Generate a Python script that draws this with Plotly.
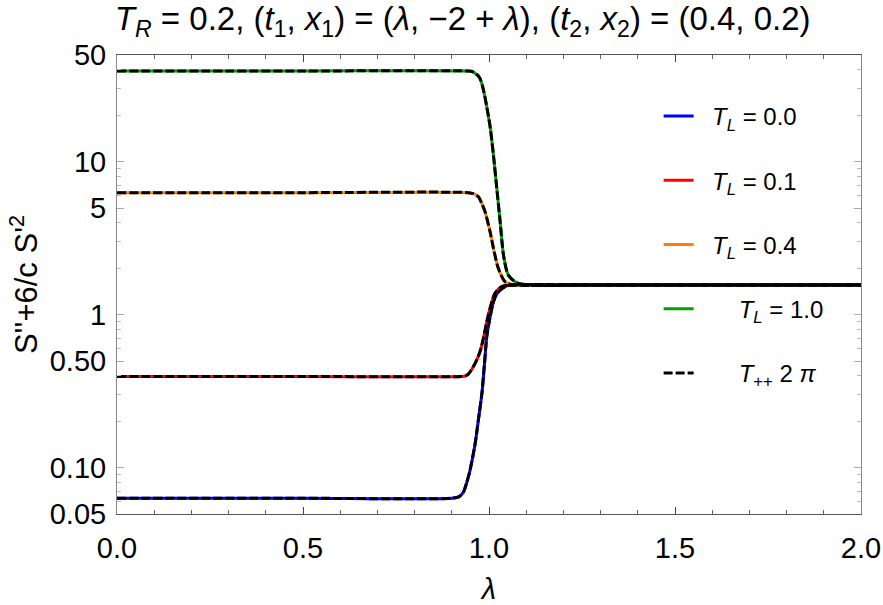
import plotly.graph_objects as go

# values (lambda, S''+6/c S'^2)
lam_t00 = [0.0, 0.5, 0.90, 0.92, 0.931, 0.940, 0.949, 0.963, 0.9715, 0.981, 0.988, 0.994, 1.003, 1.012, 1.020, 1.030, 1.052, 1.08, 1.3, 1.6, 2.0]
val_t00 = [0.0634, 0.0634, 0.0634, 0.065, 0.0693, 0.080, 0.0966, 0.1455, 0.2065, 0.308, 0.484, 0.722, 0.975, 1.22, 1.36, 1.455, 1.56, 1.57, 1.57, 1.57, 1.57]

lam_t01 = [0.0, 0.5, 0.925, 0.937, 0.945, 0.963, 0.976, 0.985, 0.994, 1.003, 1.016, 1.034, 1.057, 1.3, 1.6, 2.0]
val_t01 = [0.396, 0.396, 0.396, 0.400, 0.412, 0.484, 0.577, 0.705, 0.90, 1.11, 1.385, 1.53, 1.57, 1.57, 1.57, 1.57]

lam_t04 = [0.0, 0.5, 0.945, 0.958, 0.9715, 0.980, 0.9895, 1.003, 1.012, 1.025, 1.043, 1.061, 1.3, 1.6, 2.0]
val_t04 = [6.3, 6.3, 6.3, 6.2, 5.92, 5.4, 4.72, 3.49, 2.72, 2.02, 1.65, 1.58, 1.57, 1.57, 1.57]

lam_t10 = [0.0, 0.5, 0.945, 0.955, 0.962, 0.970, 0.976, 0.983, 0.990, 0.996, 1.003, 1.012, 1.021, 1.030, 1.039, 1.052, 1.079, 1.3, 1.6, 2.0]
val_t10 = [39.3, 39.3, 39.3, 39.0, 38.0, 36.8, 35.0, 31.0, 25.9, 21.5, 17.0, 11.06, 6.71, 4.06, 2.46, 1.82, 1.61, 1.57, 1.57, 1.57]

curves = [
    ("0.0", lam_t00, val_t00, "#0000FF"),
    ("0.1", lam_t01, val_t01, "#FF0000"),
    ("0.4", lam_t04, val_t04, "#FF8000"),
    ("1.0", lam_t10, val_t10, "#00A000"),
]

y_tickvals = [0.05, 0.1, 0.5, 1, 5, 10, 50]
y_ticktext = ["0.05", "0.10", "0.50", "1", "5", "10", "50"]
y_minor = [0.06, 0.07, 0.08, 0.09, 0.2, 0.3, 0.4, 0.6, 0.7, 0.8, 0.9,
           2, 3, 4, 6, 7, 8, 9, 20, 30, 40]

FONT = "Liberation Sans, Arial, sans-serif"
NB = "\u00a0"

fig = go.Figure()
for label, lam, val, color in curves:
    pad = NB * (2 if label != "1.0" else 6)
    fig.add_trace(go.Scatter(
        x=lam, y=val, mode="lines", name=f"{pad}<i>T</i><sub><i>L</i></sub> = {label}",
        line=dict(color=color, width=3, shape="spline", smoothing=0.7),
        legendgroup=label,
    ))
for i, (label, lam, val, color) in enumerate(curves):
    fig.add_trace(go.Scatter(
        x=lam, y=val, mode="lines", name=f"{NB * 6}<i>T</i><sub>++</sub> 2 <i>π</i>",
        line=dict(color="black", width=3, dash="9px,3px", shape="spline", smoothing=0.7),
        legendgroup="pp", showlegend=(i == 0),
    ))

fig.update_layout(
    width=883, height=605,
    paper_bgcolor="white", plot_bgcolor="white",
    margin=dict(l=117, r=22, t=55, b=91),
    font=dict(family=FONT, color="black", size=24),
    title=dict(
        text="<i>T</i><sub><i>R</i></sub> = 0.2, (<i>t</i><sub>1</sub>, <i>x</i><sub>1</sub>) = "
             "(<i>λ</i>, −2 + <i>λ</i>), (<i>t</i><sub>2</sub>, <i>x</i><sub>2</sub>) = (0.4, 0.2)",
        x=0.524, xanchor="center", y=0.988, yanchor="top",
        font=dict(size=33, family=FONT),
    ),
    legend=dict(
        x=0.728, y=0.915, xanchor="left", yanchor="top",
        bgcolor="rgba(0,0,0,0)", font=dict(size=24, family=FONT),
        itemwidth=30, tracegroupgap=30,
    ),
    showlegend=True,
)
fig.update_xaxes(
    range=[0, 2], tickvals=[0, 0.5, 1.0, 1.5, 2.0],
    ticktext=["0.0", "0.5", "1.0", "1.5", "2.0"],
    ticks="inside", ticklen=7, tickcolor="#444", tickwidth=1,
    minor=dict(tickvals=[0.1, 0.2, 0.3, 0.4, 0.6, 0.7, 0.8, 0.9, 1.1, 1.2, 1.3, 1.4, 1.6, 1.7, 1.8, 1.9],
               ticks="inside", ticklen=4, tickcolor="#666"),
    showline=True, linecolor="#555", linewidth=1, mirror="allticks",
    showgrid=False, zeroline=False, automargin=False,
    tickfont=dict(size=29), ticklabelstandoff=8,
    title=dict(text="<i>λ</i>", font=dict(size=29), standoff=18),
)
fig.update_yaxes(
    type="log", range=[-1.301, 1.699],
    tickvals=y_tickvals, ticktext=y_ticktext,
    ticks="inside", ticklen=7, tickcolor="#aaa", tickwidth=1,
    minor=dict(tickvals=y_minor, ticks="inside", ticklen=4, tickcolor="#bbb"),
    showline=True, linecolor="#888", linewidth=1, mirror="allticks",
    showgrid=False, zeroline=False, automargin=False,
    tickfont=dict(size=29), ticklabelstandoff=4,
    title=dict(text="S''+6/c S'<sup>2</sup>", font=dict(size=31), standoff=2),
)

fig.write_html("out.html", config={"displayModeBar": False},
               post_script="document.body.style.margin='0';")
